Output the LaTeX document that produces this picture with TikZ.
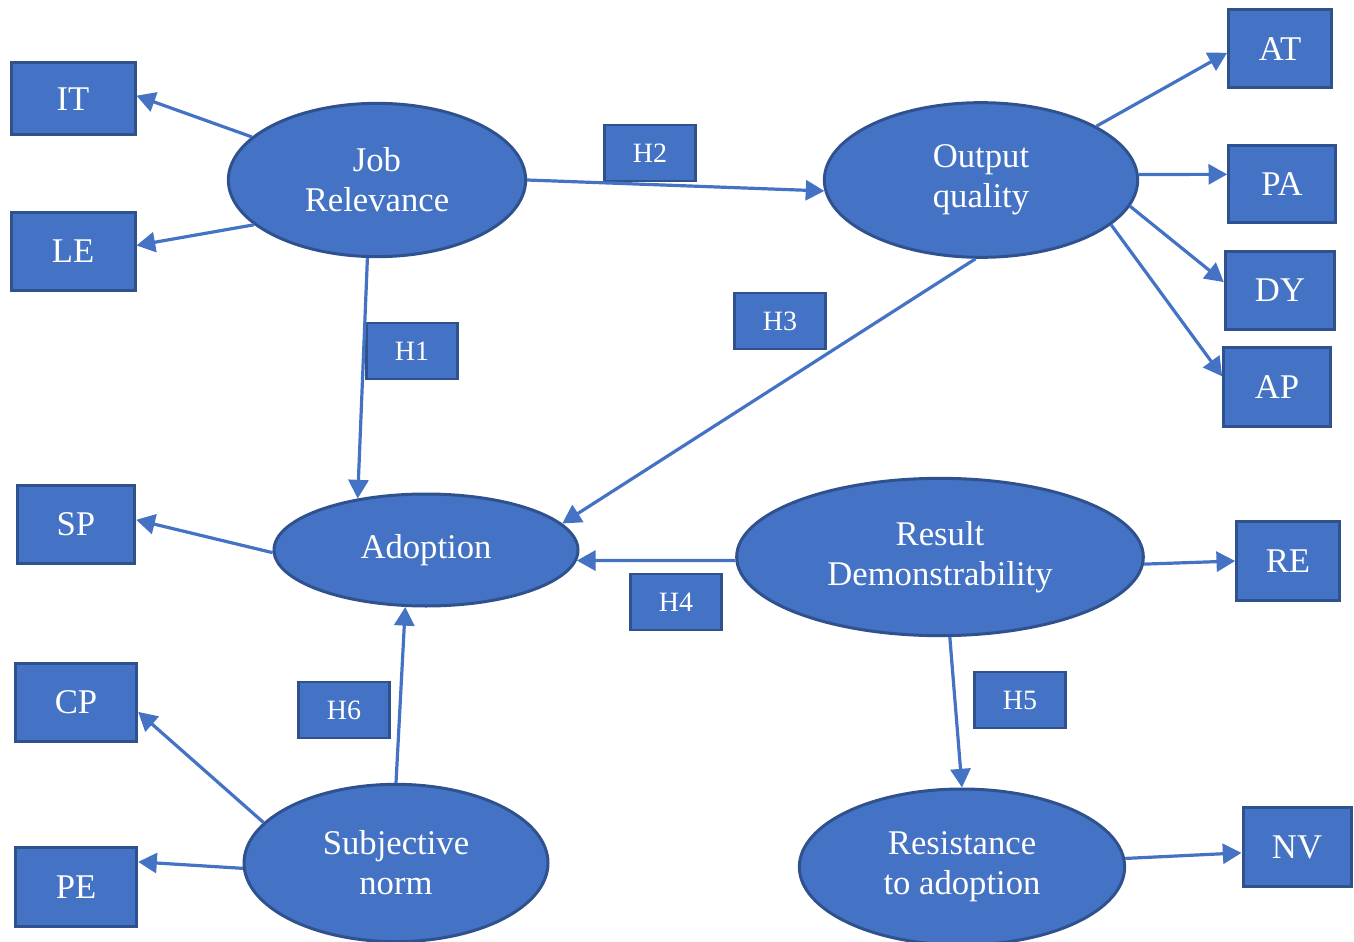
\documentclass[tikz,border=0pt]{standalone}
\usepackage{fontspec}
\setmainfont{Liberation Serif}
\usetikzlibrary{positioning}
\usetikzlibrary{arrows.meta,shapes.geometric}
\definecolor{fillblue}{HTML}{4472C4}
\definecolor{edgeblue}{HTML}{2F528F}

\begin{document}
\begin{tikzpicture}[x=0.75pt,y=-0.75pt,>={Triangle[length=14pt,width=15pt]},
    construct/.style={ellipse,fill=fillblue,draw=edgeblue,line width=2.25pt,text=white,
      align=center,inner sep=0pt,font=\fontsize{26}{30}\selectfont},
    item/.style={rectangle,fill=fillblue,draw=edgeblue,line width=2.25pt,text=white,
      inner sep=0pt,font=\fontsize{26}{30}\selectfont},
    hyp/.style={rectangle,fill=fillblue,draw=edgeblue,line width=2pt,text=white,
      minimum width=68pt,minimum height=42pt,inner sep=0pt,font=\fontsize{21}{24}\selectfont},
    link/.style={color=fillblue,line width=2.4pt}]
  \useasboundingbox (0,0) rectangle (1354,942);

  % constructs
  \node[construct,minimum width=223pt,minimum height=115pt] (Job)    at (377,180) {Job\\Relevance};
  \node[construct,minimum width=235pt,minimum height=116pt] (Output) at (981,180) {Output\\quality};
  \node[construct,minimum width=228pt,minimum height=84pt]  (Adopt)  at (426,550) {Adoption};
  \node[construct,minimum width=305pt,minimum height=118pt] (Result) at (940,557) {Result\\Demonstrability};
  \node[construct,minimum width=228pt,minimum height=118pt] (Norm)   at (396,863) {Subjective\\norm};
  \node[construct,minimum width=244pt,minimum height=117pt] (Resist) at (962,867) {Resistance\\to adoption};

  % indicators
  \node[item,minimum width=93pt,minimum height=54pt]   (IT) at (73,99)    {IT};
  \node[item,minimum width=93pt,minimum height=58.5pt] (LE) at (73,251)   {LE};
  \node[item,minimum width=77pt,minimum height=58.5pt] (AT) at (1280,49)  {AT};
  \node[item,minimum width=80pt,minimum height=58pt]   (PA) at (1282,184) {PA};
  \node[item,minimum width=82pt,minimum height=58.5pt] (DY) at (1280,290) {DY};
  \node[item,minimum width=80pt,minimum height=59pt]   (AP) at (1277,387) {AP};
  \node[item,minimum width=88pt,minimum height=58.5pt] (SP) at (76,524)   {SP};
  \node[item,minimum width=77pt,minimum height=59pt]   (RE) at (1288,561) {RE};
  \node[item,minimum width=91pt,minimum height=58.5pt] (CP) at (76,702)   {CP};
  \node[item,minimum width=91pt,minimum height=59pt]   (PE) at (76,887)   {PE};
  \node[item,minimum width=81pt,minimum height=59pt]   (NV) at (1297,847) {NV};

  % hypotheses
  \node[hyp] (H1) at (412,351)  {H1};
  \node[hyp] (H2) at (650,153)  {H2};
  \node[hyp] (H3) at (780,321)  {H3};
  \node[hyp] (H4) at (676,602)  {H4};
  \node[hyp] (H5) at (1020,700) {H5};
  \node[hyp] (H6) at (344,710)  {H6};

  \path[->,link]
     (Job.161) edge (IT.3)
     (Job.200) edge (LE.5)
       (Job.0) edge (Output.184)
     (Job.263) edge (Adopt.143)
   (Output.25) edge (AT.184)
    (Output.2) edge (PA.170)
  (Output.-10) edge (DY.172)
  (Output.-19) edge (AP.169)
  (Output.266) edge (Adopt.11)
   (Adopt.181) edge (SP.4)
  (Result.181) edge (Adopt.-4)
   (Result.-2) edge (RE.west)
  (Result.-83) edge (Resist.90)
     (Resist.3) edge (NV.186)
     (Norm.90) edge (Adopt.250)
    (Norm.163) edge (CP.-9)
    (Norm.182) edge (PE.22);
\end{tikzpicture}
\end{document}
